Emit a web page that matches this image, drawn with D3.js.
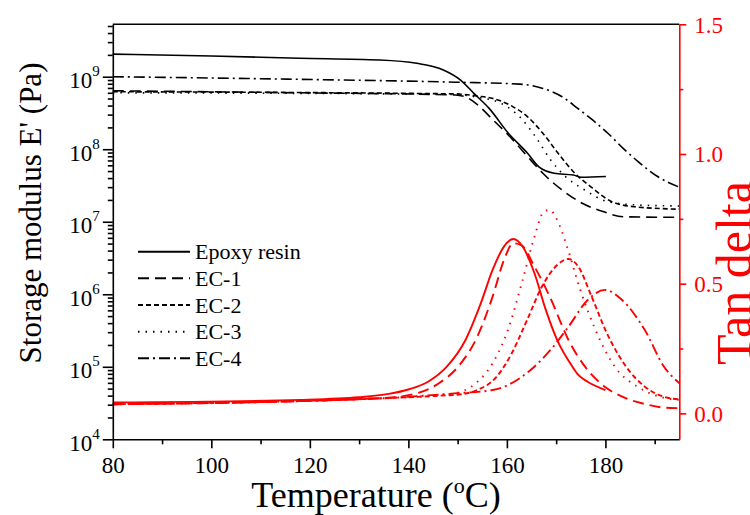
<!DOCTYPE html>
<html>
<head>
<meta charset="utf-8">
<script src="https://cdn.jsdelivr.net/npm/d3@7"></script>
<style>
  body { margin: 0; background: #fff; }
  svg { display: block; font-family: "Liberation Serif", "Times New Roman", serif; }
</style>
</head>
<body>
<svg id="chart" width="750" height="515"></svg>
<script>
// series
const seriesNames = ['Epoxy resin', 'EC-1', 'EC-2', 'EC-3', 'EC-4'];

// storage modulus E' (Pa) vs temperature (°C)
const modulusEpoxy = [[80, 2.05e9], [100, 1.93e9], [118, 1.8e9], [134, 1.7e9], [141.7, 1.53e9], [147.1, 1.24e9],
  [150.6, 9.0e8], [153.3, 5.9e8], [156.4, 3.66e8], [160.3, 1.66e8], [164.2, 8.8e7], [166.5, 5.7e7],
  [169.6, 4.66e7], [173.5, 4.4e7], [175.1, 4.1e7], [180.1, 4.2e7]];
const modulusEC1 = [[80, 6.4e8], [118, 6.0e8], [149.5, 5.6e8], [151.8, 5.2e8], [154.1, 4.07e8], [157.2, 2.53e8],
  [160.3, 1.57e8], [164.2, 7.9e7], [167.3, 4.66e7], [171.2, 2.74e7], [175.1, 1.83e7], [179.7, 1.37e7],
  [183.6, 1.17e7], [195, 1.15e7]];
const modulusEC2 = [[80, 6.2e8], [149.5, 5.8e8], [154.1, 5.4e8], [157.2, 5.0e8], [161.1, 3.9e8], [164.2, 2.8e8],
  [167.3, 1.66e8], [170.4, 8.8e7], [173.5, 4.9e7], [177.4, 2.9e7], [181.3, 1.89e7], [185.9, 1.61e7], [195, 1.49e7]];
const modulusEC3 = [[80, 6.0e8], [149.5, 5.7e8], [154.1, 5.2e8], [158.8, 4.3e8], [162.6, 2.8e8], [165.8, 1.49e8],
  [168.9, 7.1e7], [171.9, 4.2e7], [175.8, 2.74e7], [180.5, 1.89e7], [186.7, 1.7e7], [195, 1.65e7]];
const modulusEC4 = [[80, 1.0e9], [118, 9.2e8], [149.5, 8.4e8], [162.6, 7.9e8], [167.3, 6.9e8], [171.2, 5.3e8],
  [174.3, 3.7e8], [177.4, 2.53e8], [180.5, 1.66e8], [183.6, 1.03e8], [186.7, 6.7e7], [190.6, 4.2e7], [195, 3.0e7]];

// tan delta vs temperature (°C)
const tanEpoxy = [[80, 0.042], [118, 0.052], [130, 0.062], [136, 0.075], [140, 0.092], [144, 0.122], [147.8, 0.18],
  [151.6, 0.283], [154.7, 0.424], [157.1, 0.553], [159.4, 0.643], [161.3, 0.672], [163.2, 0.643], [165.6, 0.54],
  [167.9, 0.399], [170.2, 0.283], [173.3, 0.18], [174.5, 0.148], [176.4, 0.122], [180, 0.09]];
const tanEC1 = [[80, 0.035], [134, 0.058], [141.6, 0.077], [146.2, 0.116], [150.1, 0.18], [154, 0.296], [157.1, 0.45],
  [159.4, 0.591], [161.3, 0.656], [162.9, 0.649], [165.6, 0.566], [168.7, 0.45], [172.5, 0.283], [176.4, 0.167],
  [180.3, 0.097], [184.2, 0.058], [188, 0.036], [191.9, 0.022], [195, 0.02]];
const tanEC2 = [[80, 0.035], [149.3, 0.071], [154, 0.09], [157.9, 0.141], [161, 0.232], [164.1, 0.36], [167.1, 0.488],
  [170.2, 0.572], [172.5, 0.595], [174.5, 0.566], [177.2, 0.45], [180.3, 0.309], [184.2, 0.18], [188, 0.103],
  [191.9, 0.064], [195, 0.054]];
const tanEC3 = [[80, 0.035], [141.6, 0.064], [149.3, 0.077], [153.2, 0.109], [157.1, 0.193], [160.2, 0.321],
  [163.2, 0.514], [165.6, 0.681], [167.5, 0.778], [168.7, 0.784], [170.2, 0.746], [172.2, 0.643], [174.9, 0.476],
  [178, 0.321], [181.9, 0.18], [186.5, 0.103], [191.1, 0.064], [195, 0.052]];
const tanEC4 = [[80, 0.035], [134, 0.058], [149.3, 0.077], [157.1, 0.09], [160.2, 0.109], [164.8, 0.167],
  [169.4, 0.257], [172.5, 0.334], [176.4, 0.437], [179.9, 0.476], [183.4, 0.437], [188, 0.321], [191.9, 0.18],
  [195, 0.116]];

// axis ticks
const xMajorTicks = [80, 100, 120, 140, 160, 180];
const xMinorTicks = [90, 110, 130, 150, 170, 190];
const modulusTicks = [1e4, 1e5, 1e6, 1e7, 1e8, 1e9];
const tanMajorTicks = [0, 0.5, 1.0, 1.5];
const tanMinorTicks = [0.25, 0.75, 1.25];

const modulusSeries = [modulusEpoxy, modulusEC1, modulusEC2, modulusEC3, modulusEC4];
const tanSeries = [tanEpoxy, tanEC1, tanEC2, tanEC3, tanEC4];
const dashes = [null, '11,6', '5,3', '1.5,6', '11,4,2,4'];

const svg = d3.select('#chart');
const margin = { top: 24.3, right: 679.3, bottom: 439.3, left: 112.8 };
const red = '#ff0000';
const serif = '"Liberation Serif", "Times New Roman", serif';

const x = d3.scaleLinear([80, 195], [margin.left, margin.right]);
const yE = d3.scaleLog([1e4, 5.28e9], [margin.bottom, margin.top]);
const yT = d3.scaleLinear([-0.1, 1.5], [margin.bottom, margin.top]);

// curves
const lineE = d3.line().x((d) => x(d[0])).y((d) => yE(d[1])).curve(d3.curveMonotoneX);
const lineT = d3.line().x((d) => x(d[0])).y((d) => yT(d[1])).curve(d3.curveMonotoneX);

svg.append('g')
  .attr('fill', 'none')
  .attr('stroke', '#000')
  .attr('stroke-width', 1.6)
  .selectAll('path')
  .data(modulusSeries)
  .join('path')
  .attr('d', lineE)
  .attr('stroke-dasharray', (d, i) => dashes[i]);

svg.append('g')
  .attr('fill', 'none')
  .attr('stroke', red)
  .attr('stroke-width', 1.9)
  .selectAll('path')
  .data(tanSeries)
  .join('path')
  .attr('d', lineT)
  .attr('stroke-dasharray', (d, i) => dashes[i]);

// top frame
svg.append('line')
  .attr('x1', margin.left).attr('x2', margin.right)
  .attr('y1', margin.top).attr('y2', margin.top)
  .attr('stroke', '#000').attr('stroke-width', 1.6);

// bottom axis
const gx = svg.append('g')
  .attr('transform', `translate(0,${margin.bottom})`)
  .call(d3.axisBottom(x).tickValues(xMajorTicks).tickSize(9).tickSizeOuter(0));
svg.append('g')
  .attr('transform', `translate(0,${margin.bottom})`)
  .call(d3.axisBottom(x).tickValues(xMinorTicks).tickSize(5).tickSizeOuter(0).tickFormat(''))
  .call((g) => g.select('.domain').remove());
gx.selectAll('.tick text')
  .attr('y', 34).attr('dy', null);

// left axis (log)
const minorE = yE.ticks().filter((d) => !modulusTicks.includes(d));
const gy = svg.append('g')
  .attr('transform', `translate(${margin.left},0)`)
  .call(d3.axisLeft(yE).tickValues(modulusTicks).tickSize(10).tickSizeOuter(0));
svg.append('g')
  .attr('transform', `translate(${margin.left},0)`)
  .call(d3.axisLeft(yE).tickValues(minorE).tickSize(5).tickSizeOuter(0).tickFormat(''))
  .call((g) => g.select('.domain').remove());
gy.selectAll('.tick text')
  .attr('x', -13).attr('dy', null).attr('y', 11)
  .text('')
  .call((t) => t.append('tspan').text('10'))
  .append('tspan')
  .attr('dy', -12)
  .attr('font-size', 15)
  .text((d) => Math.round(Math.log10(d)));

// right axis (tan delta)
const gr = svg.append('g')
  .attr('transform', `translate(${margin.right},0)`)
  .call(d3.axisRight(yT).tickValues(tanMajorTicks).tickSize(7).tickSizeOuter(0).tickFormat(d3.format('.1f')));
svg.append('g')
  .attr('transform', `translate(${margin.right},0)`)
  .call(d3.axisRight(yT).tickValues(tanMinorTicks).tickSize(4).tickSizeOuter(0).tickFormat(''))
  .call((g) => g.select('.domain').remove())
  .selectAll('line').attr('stroke', red);
gr.select('.domain').attr('stroke', red);
gr.selectAll('.tick line').attr('stroke', red);
gr.selectAll('.tick text')
  .attr('x', 15).attr('dy', '0.34em')
  .attr('fill', red);

[gx, gy, gr].forEach((g) => g.attr('font-family', serif).attr('font-size', 23));
svg.selectAll('.tick text').attr('font-family', serif);
svg.selectAll('.domain, .tick line').attr('stroke-width', 1.6);

// axis titles
svg.append('text')
  .attr('transform', 'translate(41,213) rotate(-90)')
  .attr('text-anchor', 'middle')
  .attr('font-size', 31)
  .text("Storage modulus E' (Pa)");

const xt = svg.append('text')
  .attr('x', 376).attr('y', 507)
  .attr('text-anchor', 'middle')
  .attr('font-size', 36);
xt.append('tspan').text('Temperature (');
xt.append('tspan').attr('dy', -14).attr('font-size', 22).text('o');
xt.append('tspan').attr('dy', 14).text('C)');

svg.append('text')
  .attr('transform', 'translate(751,273) rotate(-90)')
  .attr('text-anchor', 'middle')
  .attr('font-size', 50)
  .attr('fill', red)
  .text('Tan delta');

// legend
const rowY = d3.scalePoint(seriesNames, [251.7, 358.3]);
const legend = svg.append('g')
  .selectAll('g')
  .data(seriesNames)
  .join('g')
  .attr('transform', (d) => `translate(0,${rowY(d)})`);
legend.append('line')
  .attr('x1', 138).attr('x2', 190)
  .attr('stroke', '#000')
  .attr('stroke-width', 2)
  .attr('stroke-dasharray', (d, i) => dashes[i]);
legend.append('text')
  .attr('x', 195).attr('y', 7.5)
  .attr('font-size', 22)
  .text((d) => d);
</script>
</body>
</html>
